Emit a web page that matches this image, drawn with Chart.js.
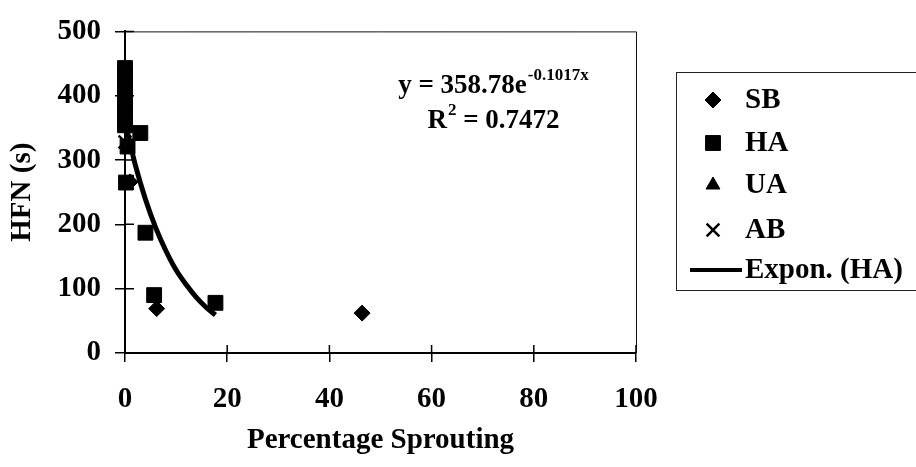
<!DOCTYPE html>
<html>
<head>
<meta charset="utf-8">
<title>HFN vs Percentage Sprouting</title>
<script src="https://cdn.jsdelivr.net/npm/chart.js@4.4.0/dist/chart.umd.min.js"></script>
<style>
    html, body { margin: 0; padding: 0; background: #fff; }
    #chartWrap { width: 916px; height: 467px; }
</style>
</head>
<body>
<div id="chartWrap"><canvas id="hfnChart" width="916" height="467"></canvas></div>
<script>
// Values: x = percentage sprouting, y = HFN (s)
const sbX = [1.0, 6.2, 46.4];
const sbY = [266, 69, 62];
const haX = [0, 0, 0, 0, 0, 0, 0, 0, 0.5, 3.0, 0.2, 4.0, 5.7, 17.7];
const haY = [443, 430, 416, 402, 389, 376, 364, 354, 321, 342, 265, 187, 90, 78];
const uaX = [0, 0];
const uaY = [420, 380];
const abX = [0, 0];
const abY = [328, 395];

// Exponential trendline through the HA points
const trendX = [0, 2, 4, 6, 8, 10, 12, 14, 16, 17.7];
const trendY = [359, 293, 239, 195, 159, 129, 106, 86, 70, 59];

const seriesLabels = ['SB', 'HA', 'UA', 'AB', 'Expon. (HA)'];
const xTicks = [0, 20, 40, 60, 80, 100];
const yTicks = [0, 100, 200, 300, 400, 500];

// Trendline equation as printed on the chart
const eqCoef = '358.78';
const eqExp = '-0.1017x';
const eqR2 = '0.7472';

const SERIF = "'Liberation Serif', 'Times New Roman', serif";

function toPoints(xs, ys) {
    return xs.map((x, i) => ({ x: x, y: ys[i] }));
}

// Frame round the plot area plus the inner half of each tick mark
const frameAndTicks = {
    id: 'frameAndTicks',
    afterDatasetsDraw(chart) {
        const { ctx, chartArea: a, scales } = chart;
        ctx.save();
        ctx.strokeStyle = '#111';
        ctx.lineWidth = 1;
        ctx.beginPath();
        ctx.moveTo(a.left, a.top + 0.5);
        ctx.lineTo(a.right + 0.5, a.top + 0.5);
        ctx.lineTo(a.right + 0.5, a.bottom);
        ctx.stroke();

        ctx.strokeStyle = '#000';
        ctx.lineWidth = 1.5;
        ctx.beginPath();
        scales.x.ticks.forEach(t => {
            const px = scales.x.getPixelForValue(t.value);
            ctx.moveTo(px, a.bottom);
            ctx.lineTo(px, a.bottom - 8);
        });
        scales.y.ticks.forEach(t => {
            const py = scales.y.getPixelForValue(t.value);
            ctx.moveTo(a.left, py);
            ctx.lineTo(a.left + 9, py);
        });
        ctx.stroke();
        ctx.restore();
    }
};

// Equation and R squared, with superscripts
const trendLabel = {
    id: 'trendLabel',
    afterDraw(chart) {
        const ctx = chart.ctx;
        const cx = 493;
        const mainFont = `bold 27px ${SERIF}`;
        const supFont = `bold 17px ${SERIF}`;
        ctx.save();
        ctx.fillStyle = '#000';
        ctx.textBaseline = 'alphabetic';
        ctx.textAlign = 'left';

        const line1 = `y = ${eqCoef}e`;
        ctx.font = mainFont;
        const w1 = ctx.measureText(line1).width;
        ctx.font = supFont;
        const ws1 = ctx.measureText(eqExp).width;
        let x = cx - (w1 + ws1) / 2;
        ctx.font = mainFont;
        ctx.fillText(line1, x, 93);
        ctx.font = supFont;
        ctx.fillText(eqExp, x + w1 + 1, 80);

        const rPart = 'R';
        const rest = ` = ${eqR2}`;
        ctx.font = mainFont;
        const wr = ctx.measureText(rPart).width;
        const wrest = ctx.measureText(rest).width;
        ctx.font = supFont;
        const ws2 = ctx.measureText('2').width;
        x = cx - (wr + ws2 + wrest) / 2;
        ctx.font = mainFont;
        ctx.fillText(rPart, x, 128);
        ctx.font = supFont;
        ctx.fillText('2', x + wr + 1, 115);
        ctx.font = mainFont;
        ctx.fillText(rest, x + wr + ws2 + 1, 128);
        ctx.restore();
    }
};

// Boxed legend on the right, partly cut off by the canvas edge like the original
const boxedLegend = {
    id: 'boxedLegend',
    afterDraw(chart) {
        const ctx = chart.ctx;
        const rowY = [100, 143, 185, 230, 270];
        ctx.save();
        ctx.strokeStyle = '#222';
        ctx.lineWidth = 1;
        ctx.strokeRect(676.5, 72.5, 260, 218);

        ctx.font = `bold 29px ${SERIF}`;
        ctx.textAlign = 'left';
        ctx.textBaseline = 'middle';
        chart.data.datasets.forEach((ds, i) => {
            const y = rowY[i];
            ctx.fillStyle = '#000';
            ctx.strokeStyle = '#000';
            if (ds.showLine) {
                ctx.lineWidth = 4;
                ctx.beginPath();
                ctx.moveTo(690, y);
                ctx.lineTo(742, y);
                ctx.stroke();
            } else {
                ctx.lineWidth = ds.borderWidth || 1;
                Chart.helpers.drawPoint(ctx, {
                    pointStyle: ds.pointStyle,
                    radius: ds.legendRadius,
                    rotation: 0,
                    borderWidth: ds.borderWidth || 1
                }, 713, y);
            }
            ctx.fillText(ds.label, 745, y + 1);
        });
        ctx.restore();
    }
};

const tickFont = { family: SERIF, size: 29, weight: 'bold' };
const titleFont = { family: SERIF, size: 29, weight: 'bold', lineHeight: 1.2 };

const chart = new Chart(document.getElementById('hfnChart'), {
    type: 'scatter',
    data: {
        datasets: [
            {
                label: seriesLabels[0],
                data: toPoints(sbX, sbY),
                pointStyle: 'rectRot',
                pointRadius: 8,
                legendRadius: 8,
                backgroundColor: '#000',
                borderColor: '#000',
                clip: false
            },
            {
                label: seriesLabels[1],
                data: toPoints(haX, haY),
                pointStyle: 'rect',
                pointRadius: 10.5,
                legendRadius: 10.5,
                backgroundColor: '#000',
                borderColor: '#000',
                clip: false
            },
            {
                label: seriesLabels[2],
                data: toPoints(uaX, uaY),
                pointStyle: 'triangle',
                pointRadius: 8,
                legendRadius: 8,
                backgroundColor: '#000',
                borderColor: '#000',
                clip: false
            },
            {
                label: seriesLabels[3],
                data: toPoints(abX, abY),
                pointStyle: 'crossRot',
                pointRadius: 9,
                legendRadius: 9,
                borderWidth: 2.5,
                backgroundColor: '#000',
                borderColor: '#000',
                clip: false
            },
            {
                label: seriesLabels[4],
                data: toPoints(trendX, trendY),
                showLine: true,
                pointRadius: 0,
                borderColor: '#000',
                borderWidth: 5,
                cubicInterpolationMode: 'monotone',
                fill: false,
                clip: false
            }
        ]
    },
    options: {
        responsive: false,
        animation: false,
        devicePixelRatio: 1,
        layout: {
            padding: { left: 0, top: 21, right: 280, bottom: 0 }
        },
        plugins: {
            legend: { display: false },
            tooltip: { enabled: false }
        },
        scales: {
            x: {
                type: 'linear',
                position: 'bottom',
                min: 0,
                max: 100,
                afterBuildTicks: scale => { scale.ticks = xTicks.map(v => ({ value: v })); },
                afterFit: scale => { scale.height = 114; },
                grid: {
                    drawOnChartArea: false,
                    tickLength: 9,
                    color: '#000',
                    lineWidth: 1.5
                },
                border: { color: '#000', width: 2 },
                ticks: {
                    color: '#000',
                    font: tickFont,
                    padding: 20,
                    maxRotation: 0
                },
                title: {
                    display: true,
                    text: 'Percentage Sprouting',
                    color: '#000',
                    font: titleFont,
                    padding: { top: 0, bottom: 9 }
                }
            },
            y: {
                type: 'linear',
                min: 0,
                max: 500,
                afterBuildTicks: scale => { scale.ticks = yTicks.map(v => ({ value: v })); },
                afterFit: scale => { scale.width = 125; },
                grid: {
                    drawOnChartArea: false,
                    tickLength: 10,
                    color: '#000',
                    lineWidth: 1.5
                },
                border: { color: '#000', width: 2 },
                ticks: {
                    color: '#000',
                    font: tickFont,
                    padding: 14
                },
                title: {
                    display: true,
                    text: 'HFN (s)',
                    color: '#000',
                    font: titleFont,
                    padding: { top: 5, bottom: 0 }
                }
            }
        }
    },
    plugins: [frameAndTicks, trendLabel, boxedLegend]
});
</script>
</body>
</html>
